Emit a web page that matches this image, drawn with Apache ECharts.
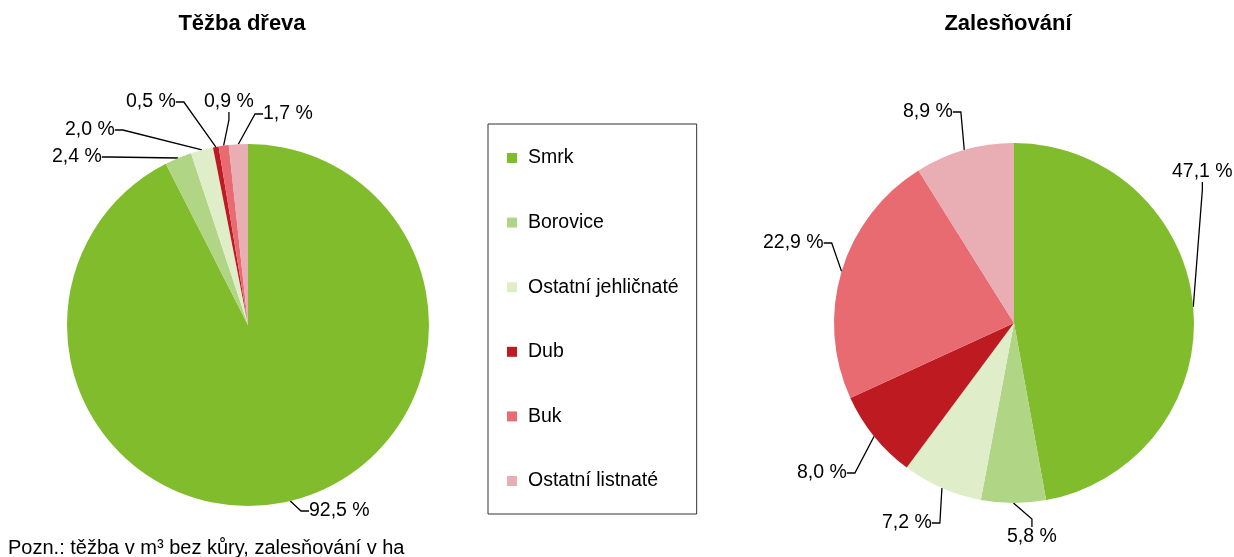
<!DOCTYPE html>
<html>
<head>
<meta charset="utf-8">
<script src="https://cdn.jsdelivr.net/npm/echarts@6/dist/echarts.min.js"></script>
<style>
  html, body { margin: 0; padding: 0; background: #fff; }
  #chart { width: 1234px; height: 557px; }
</style>
</head>
<body>
<div id="chart"></div>
<script>
// druhy dřevin
const categories = ['Smrk', 'Borovice', 'Ostatní jehličnaté', 'Dub', 'Buk', 'Ostatní listnaté']
// podíl v %
const tezba = [92.5, 2.4, 2.0, 0.5, 0.9, 1.7]
const zalesnovani = [47.1, 5.8, 7.2, 8.0, 22.9, 8.9]

const colors = ['#80bc2c', '#afd585', '#dfedc9', '#be1a22', '#e96b72', '#e8aeb3']

// umístění popisků (levý okraj textu, střed výšky)
const labelPosLeft = [[309, 511], [52, 157], [65, 130], [126, 102], [204, 102], [263, 114]]
const labelPosRight = [[1172, 172], [1007, 537], [882, 523], [797, 473], [763, 243], [903, 112]]

const fmt = (v) => v.toFixed(1).replace('.', ',') + ' %'
const font = 'Liberation Sans, Arial, sans-serif'

const mkSeries = (name, values, center, radius, pos) => ({
  name: name,
  type: 'pie',
  center: center,
  radius: radius,
  startAngle: 90,
  clockwise: true,
  animation: false,
  avoidLabelOverlap: false,
  data: categories.map((c, i) => ({ name: c, value: values[i] })),
  itemStyle: { borderWidth: 0 },
  label: {
    show: true,
    formatter: (p) => fmt(p.value),
    color: '#000',
    fontSize: 19.5,
    fontFamily: font
  },
  labelLine: {
    show: true,
    length: 8,
    length2: 8,
    lineStyle: { color: '#000', width: 1.3 }
  },
  labelLayout: (p) => ({
    x: pos[p.dataIndex][0],
    y: pos[p.dataIndex][1],
    align: 'left',
    verticalAlign: 'middle'
  }),
  emphasis: { disabled: true }
})

const chart = echarts.init(document.getElementById('chart'))
chart.setOption({
  color: colors,
  textStyle: { fontFamily: font },
  title: [
    { text: 'Těžba dřeva', left: 242, top: 13, textAlign: 'center', padding: 0,
      textStyle: { fontSize: 22, fontWeight: 'bold', color: '#000', fontFamily: font } },
    { text: 'Zalesňování', left: 1008, top: 13, textAlign: 'center', padding: 0,
      textStyle: { fontSize: 22, fontWeight: 'bold', color: '#000', fontFamily: font } }
  ],
  legend: {
    orient: 'vertical',
    left: 488,
    top: 124,
    data: categories,
    icon: 'rect',
    itemWidth: 10,
    itemHeight: 10,
    itemGap: 44.6,
    padding: [24, 18, 23, 19],
    borderColor: '#333',
    borderWidth: 1,
    selectedMode: false,
    textStyle: { fontSize: 19.5, color: '#000', fontFamily: font, padding: [0, 0, 0, 6] }
  },
  graphic: [{
    type: 'text',
    left: 8,
    top: 538,
    style: { text: 'Pozn.: těžba v m³ bez kůry, zalesňování v ha', fontSize: 20, fill: '#000', fontFamily: font }
  }],
  series: [
    mkSeries('Těžba dřeva', tezba, [248, 325], 181, labelPosLeft),
    mkSeries('Zalesňování', zalesnovani, [1014, 323], 180, labelPosRight)
  ]
})
window.addEventListener('resize', () => { chart.resize() })
</script>
</body>
</html>
